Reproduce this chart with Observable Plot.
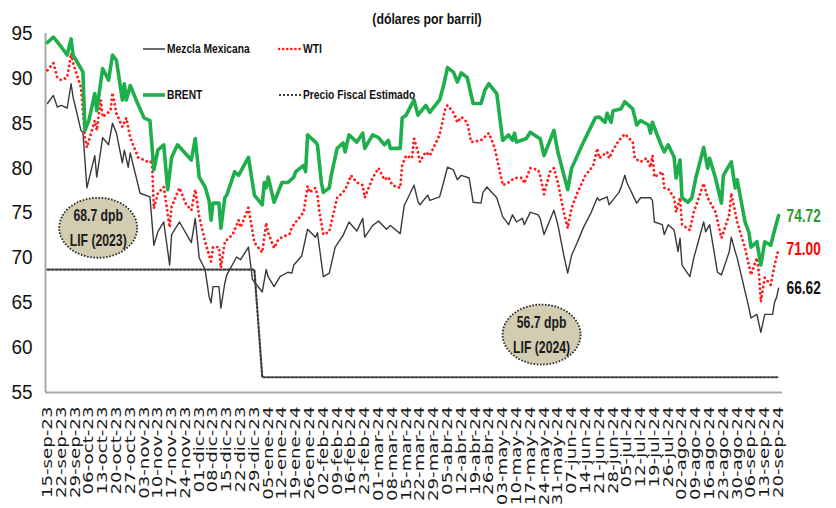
<!DOCTYPE html>
<html><head><meta charset="utf-8">
<script src="https://cdn.jsdelivr.net/npm/d3@7"></script>
<script src="https://cdn.jsdelivr.net/npm/@observablehq/plot@0.6"></script>
<style>
body{margin:0;background:#fff;}
#chart{position:relative;width:836px;height:508px;overflow:hidden;}
</style></head><body><div id="chart"></div>
<script>
// ---- data (USD per barrel) ----
const brent = [["2023-09-15",94.0],["2023-09-18",94.6],["2023-09-22",93.5],["2023-09-25",92.6],["2023-09-27",94.4],["2023-09-28",92.6],["2023-10-02",91.1],["2023-10-03",90.7],["2023-10-04",84.2],["2023-10-06",85.3],["2023-10-09",88.3],["2023-10-10",86.4],["2023-10-13",91.1],["2023-10-16",89.8],["2023-10-18",92.6],["2023-10-20",92.0],["2023-10-23",87.6],["2023-10-24",89.4],["2023-10-25",87.6],["2023-10-27",89.2],["2023-10-30",87.6],["2023-11-03",85.6],["2023-11-06",85.3],["2023-11-08",79.8],["2023-11-10",82.0],["2023-11-13",82.6],["2023-11-15",77.6],["2023-11-17",81.2],["2023-11-20",82.6],["2023-11-27",80.9],["2023-11-29",83.3],["2023-12-01",79.0],["2023-12-04",77.9],["2023-12-06",76.4],["2023-12-07",74.2],["2023-12-08",76.1],["2023-12-11",76.1],["2023-12-12",73.3],["2023-12-14",76.7],["2023-12-15",77.0],["2023-12-19",79.6],["2023-12-21",79.2],["2023-12-26",81.2],["2023-12-29",77.0],["2024-01-02",75.9],["2024-01-03",78.4],["2024-01-04",77.8],["2024-01-05",79.0],["2024-01-08",76.2],["2024-01-10",77.3],["2024-01-12",78.4],["2024-01-15",78.4],["2024-01-18",79.0],["2024-01-19",79.6],["2024-01-23",80.3],["2024-01-24",79.6],["2024-01-25",83.7],["2024-01-29",82.9],["2024-01-30",82.6],["2024-02-01",78.4],["2024-02-02",77.3],["2024-02-05",77.8],["2024-02-06",79.2],["2024-02-09",82.2],["2024-02-12",82.8],["2024-02-13",81.8],["2024-02-15",83.7],["2024-02-19",82.9],["2024-02-22",83.9],["2024-02-23",82.2],["2024-02-27",83.7],["2024-03-01",83.4],["2024-03-04",82.6],["2024-03-06",83.1],["2024-03-07",82.2],["2024-03-12",82.2],["2024-03-13",85.6],["2024-03-15",85.9],["2024-03-19",87.6],["2024-03-21",85.9],["2024-03-25",87.0],["2024-03-27",86.2],["2024-04-01",87.6],["2024-04-03",89.2],["2024-04-05",91.2],["2024-04-08",90.7],["2024-04-10",89.6],["2024-04-12",90.6],["2024-04-15",90.1],["2024-04-18",87.2],["2024-04-22",87.2],["2024-04-24",88.7],["2024-04-26",89.4],["2024-04-30",88.3],["2024-05-03",83.1],["2024-05-06",83.7],["2024-05-08",83.1],["2024-05-09",83.9],["2024-05-10",82.9],["2024-05-15",83.3],["2024-05-17",84.0],["2024-05-21",83.4],["2024-05-22",83.3],["2024-05-24",81.4],["2024-05-29",84.2],["2024-05-31",81.8],["2024-06-05",77.6],["2024-06-07",80.0],["2024-06-13",82.9],["2024-06-19",85.6],["2024-06-21",85.7],["2024-06-24",85.1],["2024-06-25",86.1],["2024-06-27",85.1],["2024-06-28",86.4],["2024-07-02",86.6],["2024-07-04",87.4],["2024-07-08",86.6],["2024-07-10",84.8],["2024-07-12",85.3],["2024-07-16",84.8],["2024-07-17",83.9],["2024-07-18",85.1],["2024-07-22",82.8],["2024-07-24",81.8],["2024-07-26",82.6],["2024-07-29",81.2],["2024-07-30",78.9],["2024-08-01",80.9],["2024-08-02",76.7],["2024-08-05",76.2],["2024-08-07",76.7],["2024-08-09",78.9],["2024-08-13",82.3],["2024-08-15",80.0],["2024-08-16",81.1],["2024-08-19",78.9],["2024-08-22",76.1],["2024-08-23",79.2],["2024-08-27",80.7],["2024-08-29",77.8],["2024-08-30",78.7],["2024-09-03",74.0],["2024-09-05",72.8],["2024-09-06",71.2],["2024-09-09",71.8],["2024-09-11",69.2],["2024-09-13",71.8],["2024-09-16",71.4],["2024-09-18",73.1],["2024-09-20",74.72]];

const wti = [["2023-09-15",90.9],["2023-09-18",91.7],["2023-09-20",90.1],["2023-09-22",89.8],["2023-09-25",90.1],["2023-09-27",92.8],["2023-09-28",91.7],["2023-10-02",89.0],["2023-10-04",83.4],["2023-10-05",82.3],["2023-10-09",85.3],["2023-10-10",84.2],["2023-10-12",87.6],["2023-10-13",85.7],["2023-10-17",86.4],["2023-10-18",88.4],["2023-10-20",86.1],["2023-10-23",84.6],["2023-10-25",85.6],["2023-10-27",83.4],["2023-10-31",81.2],["2023-11-06",80.6],["2023-11-07",80.9],["2023-11-08",75.5],["2023-11-10",77.2],["2023-11-13",77.9],["2023-11-14",76.4],["2023-11-16",73.4],["2023-11-17",75.7],["2023-11-21",77.8],["2023-11-24",76.1],["2023-11-27",75.3],["2023-11-29",77.6],["2023-12-01",74.6],["2023-12-04",71.8],["2023-12-07",69.6],["2023-12-08",71.2],["2023-12-11",71.2],["2023-12-12",68.9],["2023-12-14",71.8],["2023-12-18",72.6],["2023-12-21",74.2],["2023-12-22",73.4],["2023-12-26",75.6],["2023-12-29",71.7],["2024-01-02",70.6],["2024-01-04",73.9],["2024-01-05",72.8],["2024-01-08",71.1],["2024-01-10",72.0],["2024-01-12",72.3],["2024-01-16",72.7],["2024-01-17",73.4],["2024-01-19",74.0],["2024-01-23",75.1],["2024-01-25",78.0],["2024-01-26",77.3],["2024-01-29",77.8],["2024-01-30",77.0],["2024-01-31",75.1],["2024-02-02",72.6],["2024-02-05",72.9],["2024-02-07",74.8],["2024-02-09",76.7],["2024-02-12",77.3],["2024-02-14",78.0],["2024-02-16",79.2],["2024-02-19",78.4],["2024-02-22",78.1],["2024-02-23",76.7],["2024-02-27",78.9],["2024-03-01",80.0],["2024-03-04",78.7],["2024-03-06",79.0],["2024-03-08",78.1],["2024-03-12",77.8],["2024-03-13",80.3],["2024-03-15",81.4],["2024-03-18",81.1],["2024-03-19",83.3],["2024-03-21",81.8],["2024-03-22",80.7],["2024-03-25",81.8],["2024-03-27",81.4],["2024-04-01",83.7],["2024-04-04",86.7],["2024-04-05",87.0],["2024-04-08",86.2],["2024-04-10",85.1],["2024-04-12",85.7],["2024-04-15",85.1],["2024-04-17",82.9],["2024-04-22",83.1],["2024-04-23",83.3],["2024-04-26",83.9],["2024-04-29",82.2],["2024-05-03",78.1],["2024-05-06",78.4],["2024-05-09",78.9],["2024-05-13",78.9],["2024-05-14",78.3],["2024-05-17",80.0],["2024-05-21",79.8],["2024-05-22",79.2],["2024-05-24",77.1],["2024-05-27",79.6],["2024-05-29",80.0],["2024-05-31",78.4],["2024-06-03",75.1],["2024-06-05",73.3],["2024-06-07",75.6],["2024-06-10",77.3],["2024-06-14",79.2],["2024-06-18",80.3],["2024-06-20",82.2],["2024-06-21",81.1],["2024-06-25",81.8],["2024-06-26",81.1],["2024-06-28",82.0],["2024-07-01",83.1],["2024-07-04",83.8],["2024-07-08",82.9],["2024-07-09",81.1],["2024-07-12",80.7],["2024-07-15",81.1],["2024-07-17",80.1],["2024-07-18",81.4],["2024-07-19",79.0],["2024-07-23",79.6],["2024-07-24",77.8],["2024-07-26",77.7],["2024-07-29",76.7],["2024-07-30",75.1],["2024-08-01",76.7],["2024-08-02",73.7],["2024-08-06",73.1],["2024-08-08",75.1],["2024-08-13",78.3],["2024-08-15",76.7],["2024-08-19",75.1],["2024-08-22",72.2],["2024-08-26",74.8],["2024-08-27",77.2],["2024-08-29",75.1],["2024-08-30",74.0],["2024-09-03",71.1],["2024-09-06",68.1],["2024-09-09",70.0],["2024-09-10",68.4],["2024-09-11",65.1],["2024-09-13",67.8],["2024-09-16",67.0],["2024-09-18",69.2],["2024-09-20",71.00]];

const mezcla = [["2023-09-15",87.2],["2023-09-18",88.1],["2023-09-20",86.8],["2023-09-22",87.0],["2023-09-25",86.7],["2023-09-27",89.4],["2023-09-28",87.9],["2023-10-02",84.2],["2023-10-03",84.0],["2023-10-05",77.8],["2023-10-09",81.4],["2023-10-10",79.0],["2023-10-13",83.4],["2023-10-16",82.6],["2023-10-18",85.0],["2023-10-20",83.9],["2023-10-23",80.6],["2023-10-24",82.0],["2023-10-26",80.1],["2023-10-27",81.7],["2023-11-01",77.2],["2023-11-06",76.8],["2023-11-08",71.4],["2023-11-10",72.9],["2023-11-13",74.0],["2023-11-16",69.2],["2023-11-17",72.6],["2023-11-21",74.0],["2023-11-27",71.7],["2023-11-29",74.4],["2023-12-01",70.0],["2023-12-04",68.7],["2023-12-06",65.7],["2023-12-07",65.0],["2023-12-08",66.8],["2023-12-11",66.8],["2023-12-12",64.4],["2023-12-14",67.2],["2023-12-15",68.1],["2023-12-20",70.1],["2023-12-22",69.8],["2023-12-26",71.2],["2023-12-28",67.6],["2024-01-02",66.2],["2024-01-04",68.7],["2024-01-05",67.9],["2024-01-08",66.8],["2024-01-11",67.9],["2024-01-15",68.4],["2024-01-17",68.3],["2024-01-18",69.2],["2024-01-22",70.2],["2024-01-25",73.2],["2024-01-29",72.3],["2024-01-30",72.8],["2024-02-02",67.9],["2024-02-05",68.3],["2024-02-08",71.2],["2024-02-12",72.5],["2024-02-15",74.0],["2024-02-19",73.0],["2024-02-22",74.4],["2024-02-23",72.3],["2024-02-27",73.6],["2024-03-01",74.1],["2024-03-05",73.2],["2024-03-07",73.6],["2024-03-12",72.7],["2024-03-14",75.8],["2024-03-19",78.1],["2024-03-21",76.3],["2024-03-22",75.9],["2024-03-26",77.0],["2024-03-27",76.4],["2024-04-01",76.8],["2024-04-03",78.4],["2024-04-05",80.1],["2024-04-08",79.8],["2024-04-10",78.7],["2024-04-12",79.2],["2024-04-16",78.9],["2024-04-18",76.2],["2024-04-22",76.1],["2024-04-23",77.3],["2024-04-25",77.9],["2024-04-30",76.7],["2024-05-03",74.6],["2024-05-06",73.7],["2024-05-08",74.8],["2024-05-10",74.0],["2024-05-13",74.4],["2024-05-14",73.7],["2024-05-17",75.1],["2024-05-21",74.8],["2024-05-22",74.4],["2024-05-24",72.6],["2024-05-29",75.3],["2024-05-31",73.7],["2024-06-03",70.3],["2024-06-05",68.3],["2024-06-07",70.3],["2024-06-10",71.8],["2024-06-13",73.4],["2024-06-17",75.1],["2024-06-20",76.7],["2024-06-21",76.4],["2024-06-25",76.8],["2024-06-26",75.9],["2024-07-01",77.3],["2024-07-02",77.8],["2024-07-04",79.2],["2024-07-05",78.4],["2024-07-10",76.1],["2024-07-12",76.7],["2024-07-17",76.7],["2024-07-18",76.4],["2024-07-19",74.0],["2024-07-23",73.7],["2024-07-24",72.6],["2024-07-26",73.7],["2024-07-29",73.1],["2024-07-31",70.7],["2024-08-01",72.2],["2024-08-02",69.2],["2024-08-06",67.9],["2024-08-08",70.0],["2024-08-13",74.0],["2024-08-14",72.9],["2024-08-16",73.7],["2024-08-20",68.4],["2024-08-22",68.1],["2024-08-26",70.7],["2024-08-27",72.3],["2024-08-29",70.7],["2024-08-30",70.0],["2024-09-05",64.4],["2024-09-06",63.3],["2024-09-09",63.7],["2024-09-11",61.7],["2024-09-13",63.7],["2024-09-17",63.7],["2024-09-18",65.1],["2024-09-19",65.6],["2024-09-20",66.62]];

const fiscal = [["2023-09-15",68.7],["2023-12-29",68.7],["2024-01-02",56.7],["2024-09-20",56.7]];

const seriesNames = ["Mezcla Mexicana","WTI","BRENT","Precio Fiscal Estimado"];
const yTicks = [55,60,65,70,75,80,85,90,95];
const mesES = ["ene","feb","mar","abr","may","jun","jul","ago","sep","oct","nov","dic"];
const firstTick = "2023-09-15", lastTick = "2024-09-20";
const xDomain = ["2023-09-14","2024-09-22"];
const title = "(dólares por barril)";
const lif = [{year:2023, price:68.7, at:"2023-10-11", level:73.3},
             {year:2024, price:56.7, at:"2024-05-23", level:61.4}];

// ---- build ----
const rows = (arr) => arr.map(([d,v]) => ({date:new Date(d), value:v}));
const M = rows(mezcla), W = rows(wti), B = rows(brent), F = rows(fiscal);
const tickDates = d3.utcFriday.range(new Date(firstTick), d3.utcDay.offset(new Date(lastTick),1));
const fmt = d => `${String(d.getUTCDate()).padStart(2,"0")}-${mesES[d.getUTCMonth()]}-${String(d.getUTCFullYear()).slice(2)}`;
const SANS = "'Liberation Sans',Arial,sans-serif";
const C = {mez:"#3a3a3a", wti:"#ff1d1d", brent:"#1fae4c", fis:"#3c3c3c", brentLbl:"#2f9a2f"};
const lastOf = a => a[a.length-1];

const plot = Plot.plot({
  width: 836, height: 508,
  marginTop: 33, marginBottom: 116, marginLeft: 45, marginRight: 54,
  style: {background:"#fff", overflow:"visible"},
  x: {type:"utc", domain: xDomain.map(d => new Date(d))},
  y: {domain: [yTicks[0], yTicks[yTicks.length-1]]},
  marks: [
    Plot.ruleY([yTicks[0]], {stroke:"#a9a9a9", strokeWidth:2}),
    Plot.ruleX([new Date(xDomain[0])], {stroke:"#a9a9a9", strokeWidth:2}),
    Plot.line(F, {x:"date", y:"value", stroke:C.fis, strokeWidth:2.2, strokeDasharray:"2,2"}),
    Plot.line(M, {x:"date", y:"value", stroke:C.mez, strokeWidth:1.4}),
    Plot.line(W, {x:"date", y:"value", stroke:C.wti, strokeWidth:2.8, strokeDasharray:"0.1,4.6", strokeLinecap:"round"}),
    Plot.line(B, {x:"date", y:"value", stroke:C.brent, strokeWidth:3.6, strokeLinejoin:"round"}),
    Plot.text([lastOf(B)], {x:"date", y:"value", text:d=>d.value.toFixed(2), dx:8, textAnchor:"start", fill:C.brentLbl, fontWeight:"bold", fontSize:19, fontFamily:SANS}),
    Plot.text([lastOf(W)], {x:"date", y:"value", text:d=>d.value.toFixed(2), dx:8, textAnchor:"start", fill:"#ff0000", fontWeight:"bold", fontSize:19, fontFamily:SANS}),
    Plot.text([lastOf(M)], {x:"date", y:"value", text:d=>d.value.toFixed(2), dx:8, textAnchor:"start", fill:"#111", fontWeight:"bold", fontSize:19, fontFamily:SANS}),
    Plot.axisY({ticks: yTicks, tickSize:0, tickPadding:13, fontSize:20, fontFamily:SANS, fill:"#111", label:null}),
    Plot.axisX({ticks: tickDates, tickFormat: fmt, tickRotate:-90, tickSize:0, tickPadding:14, fontSize:14, fontFamily:"'DejaVu Sans',sans-serif", fill:"#1a1a1a", label:null})
  ]
});

document.getElementById("chart").appendChild(plot);
const svg = d3.select(plot);

// condense helper (narrow bold look)
function squeeze(sel, f){
  sel.each(function(){
    const L = this.getComputedTextLength();
    if (L > 0) { this.setAttribute("textLength", (L*f).toFixed(1)); this.setAttribute("lengthAdjust","spacingAndGlyphs"); }
  });
}

// stretch the rotated x labels along their baseline
svg.selectAll('g[aria-label="x-axis tick label"] text').each(function(){
  const t = this.getAttribute("transform") || "";
  this.setAttribute("transform", t + " scale(1.3,1)");
});
// y labels slightly condensed
squeeze(svg.selectAll('g[aria-label="y-axis tick label"] text'), 0.95);

// end value labels: condensed
squeeze(svg.selectAll('g[aria-label="text"] text'), 0.72);

// title
const tt = svg.append("text").attr("x", 427).attr("y", 20).attr("text-anchor","middle").attr("dominant-baseline","middle")
  .attr("font-family", SANS).attr("font-weight","bold").attr("font-size",15).attr("fill","#111").text(title);
squeeze(tt, 0.82);

// legend
const lg = svg.append("g").attr("font-family", SANS).attr("font-weight","bold").attr("font-size",13.5).attr("fill","#111").attr("text-anchor","start");
const legendItems = [
  {name:seriesNames[0], x:143, y:49, stroke:C.mez, w:1.5, dash:null, cap:"butt"},
  {name:seriesNames[1], x:279, y:49, stroke:C.wti, w:2.6, dash:"0.1,4", cap:"round"},
  {name:seriesNames[2], x:143, y:95, stroke:C.brent, w:3.6, dash:null, cap:"butt"},
  {name:seriesNames[3], x:279, y:95, stroke:C.fis, w:2, dash:"2,2", cap:"butt"}
];
legendItems.forEach(it => {
  lg.append("line").attr("x1",it.x).attr("x2",it.x+22).attr("y1",it.y).attr("y2",it.y)
    .attr("stroke",it.stroke).attr("stroke-width",it.w).attr("stroke-dasharray",it.dash).attr("stroke-linecap",it.cap);
  const t = lg.append("text").attr("x",it.x+24).attr("y",it.y).attr("dominant-baseline","middle").attr("text-anchor","start").text(it.name);
  squeeze(t, 0.76);
});

// LIF ellipses
const xs = plot.scale("x"), ys = plot.scale("y");
lif.forEach(a => {
  const cx = xs.apply(new Date(a.at)), cy = ys.apply(a.level);
  const g = svg.append("g").attr("text-anchor","middle");
  g.append("ellipse").attr("cx",cx).attr("cy",cy).attr("rx",39).attr("ry",30)
    .attr("fill","#d2ccb1").attr("stroke","#2a2a2a").attr("stroke-width",1.8).attr("stroke-dasharray","1.6,1.6");
  const t1 = g.append("text").attr("x",cx).attr("y",cy-11).attr("dominant-baseline","middle")
    .attr("font-family",SANS).attr("font-weight","bold").attr("font-size",16.5).attr("fill","#1a1a1a").text(`${a.price} dpb`);
  const t2 = g.append("text").attr("x",cx).attr("y",cy+14).attr("dominant-baseline","middle")
    .attr("font-family",SANS).attr("font-weight","bold").attr("font-size",16.5).attr("fill","#1a1a1a").text(`LIF (${a.year})`);
  squeeze(t1, 0.74); squeeze(t2, 0.74);
});
</script>
</body></html>
